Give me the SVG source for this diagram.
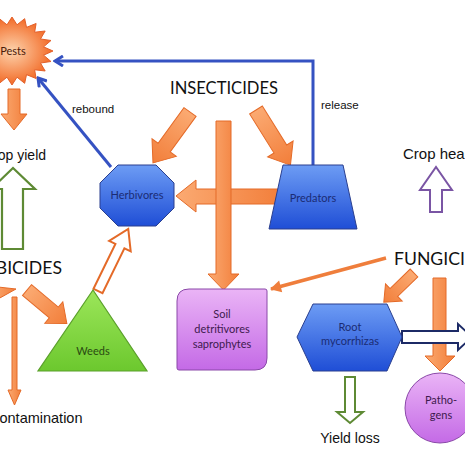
<svg xmlns="http://www.w3.org/2000/svg" width="465" height="465" viewBox="0 0 465 465">
<defs>
<linearGradient id="gBlue" x1="0" y1="0" x2="0" y2="1"><stop offset="0" stop-color="#6d9cf4"/><stop offset="1" stop-color="#1f4ed6"/></linearGradient>
<linearGradient id="gGreen" x1="0" y1="0" x2="0" y2="1"><stop offset="0" stop-color="#9ce65a"/><stop offset="1" stop-color="#6cc82e"/></linearGradient>
<linearGradient id="gPurple" x1="0" y1="0" x2="0" y2="1"><stop offset="0" stop-color="#eab4f6"/><stop offset="1" stop-color="#c46ae6"/></linearGradient>
<linearGradient id="gOrange" x1="0" y1="0" x2="1" y2="0"><stop offset="0" stop-color="#fbaa72"/><stop offset="1" stop-color="#f27e3a"/></linearGradient>
<radialGradient id="gStar" cx="0.5" cy="0.5" r="0.5"><stop offset="0" stop-color="#fdd3ad"/><stop offset="1" stop-color="#f26a26"/></radialGradient>
<marker id="mBlue" markerWidth="12" markerHeight="12" refX="10" refY="6" orient="auto" markerUnits="userSpaceOnUse"><path d="M2,1 L10,6 L2,11" fill="none" stroke="#3552c2" stroke-width="3"/></marker>
<marker id="mOr" markerWidth="14" markerHeight="14" refX="11" refY="7" orient="auto" markerUnits="userSpaceOnUse"><path d="M1,1 L12,7 L1,13 Z" fill="#ef7e3c"/></marker>
<style>
.ob{fill:url(#gOrange);stroke:#e46a28;stroke-width:1}
.lab{font-family:"Liberation Sans",Arial,sans-serif;fill:#111}
.big{font-family:Lato,"Liberation Sans",sans-serif;font-size:17px;fill:#111}
.nt{font-family:Lato,"Liberation Sans",sans-serif;font-size:11px;text-anchor:middle}
.bl{fill:none;stroke:#3552c2;stroke-width:3}
</style>
</defs>
<rect width="465" height="465" fill="#fff"/>

<g id="connectors">
<polyline class="bl" points="313,166 313,61 55,61" marker-end="url(#mBlue)"/>
<line class="bl" x1="111" y1="167" x2="38" y2="78" marker-end="url(#mBlue)"/>
<path class="ob" d="M8,89 H20 V114 H27 L14,130 L1,114 H8 Z"/>
<path class="ob" d="M16,289 L-2,299 L-1,293 L-8,296 L-2,287 Z"/>
<path class="ob" transform="translate(27,290) rotate(40)" d="M0,-7 H35 V-14 L52,0 L35,14 V7 H0 Z"/>
<path class="ob" d="M12,297 H17 V390 H21 L14.5,405 L8,390 H12 Z"/>
<path class="ob" d="M283,189 H196 V180 L176,196 L196,212 V204 H283 Z"/>
<path class="ob" transform="translate(190,112) rotate(126)" d="M0,-7.5 H44 V-15 L63,0 L44,15 V7.5 H0 Z"/>
<path class="ob" transform="translate(256,110) rotate(58)" d="M0,-7.5 H46 V-15 L65,0 L46,15 V7.5 H0 Z"/>
<path class="ob" d="M216,121 H231 V274 H239 L223.5,290 L208,274 H216 Z"/>
<path transform="translate(98,291) rotate(-64)" d="M0,-5 H50 V-12 L69,0 L50,12 V5 H0 Z" fill="#fff" stroke="#e46a28" stroke-width="2"/>
<path d="M2,249 V189 H-9 L13,168 L35,189 H23 V249 Z" fill="#fff" stroke="#5e8a34" stroke-width="2.2"/>
<line x1="386" y1="258" x2="271" y2="289" stroke="#ef7e3c" stroke-width="3.5" marker-end="url(#mOr)"/>
<path class="ob" transform="translate(414,273) rotate(136)" d="M0,-5.5 H28 V-12 L42,0 L28,12 V5.5 H0 Z"/>
<path class="ob" d="M433,278 H446 V356 H455 L440,371 L425,356 H433 Z"/>
<path d="M442,212 V190 H452 L436,167 L420,190 H430 V212 Z" fill="#fff" stroke="#7a55a4" stroke-width="2"/>
<path d="M402,331 H458 V324 L472,337 L458,350 V343 H402 Z" fill="#fff" stroke="#1c2a66" stroke-width="2"/>
<path d="M345,377 V412 H337 L350,423 L363,412 H355 V377 Z" fill="#fff" stroke="#5e8a34" stroke-width="2"/>
</g>

<g id="pests">
<polygon transform="translate(12,51) scale(41,34)" vector-effect="non-scaling-stroke" fill="url(#gStar)" stroke="#e3602a" stroke-width="1" points="1,0 .77,.122 .951,.309 .695,.354 .809,.588 .552,.552 .588,.809 .354,.695 .309,.951 .122,.77 0,1 -.122,.77 -.309,.951 -.354,.695 -.588,.809 -.552,.552 -.809,.588 -.695,.354 -.951,.309 -.77,.122 -1,0 -.77,-.122 -.951,-.309 -.695,-.354 -.809,-.588 -.552,-.552 -.588,-.809 -.354,-.695 -.309,-.951 -.122,-.77 0,-1 .122,-.77 .309,-.951 .354,-.695 .588,-.809 .552,-.552 .809,-.588 .695,-.354 .951,-.309 .77,-.122"/>
<text class="nt" x="13" y="55" fill="#4a1a08">Pests</text>
</g>

<g id="herbivores">
<polygon points="118,165 156,165 174,183 174,208 156,226 118,226 100,208 100,183" fill="url(#gBlue)" stroke="#2a3f8f" stroke-width="1"/>
<text class="nt" x="137" y="199" fill="#1b2c74">Herbivores</text>
</g>

<g id="predators">
<polygon points="283,165 343,165 357,229 269,229" fill="url(#gBlue)" stroke="#2a3f8f" stroke-width="1"/>
<text class="nt" x="313" y="202" fill="#1b2c74">Predators</text>
</g>

<g id="weeds">
<polygon points="93,290 147,371 38,371" fill="url(#gGreen)" stroke="#5aa02a" stroke-width="1.2"/>
<text class="nt" x="93" y="355" fill="#2a4a12" font-size="12">Weeds</text>
</g>

<g id="soil">
<path d="M189,289 H265 Q267,289 267,291 V358 Q267,370 255,370 H179 Q177,370 177,368 V301 Q177,289 189,289 Z" fill="url(#gPurple)" stroke="#8a48a8" stroke-width="1"/>
<text class="nt" x="222" y="318" fill="#3e1a4e">Soil</text>
<text class="nt" x="222" y="333" fill="#3e1a4e">detritivores</text>
<text class="nt" x="222" y="348" fill="#3e1a4e">saprophytes</text>
</g>

<g id="root">
<polygon points="313,304 387,304 402,337 387,371 313,371 297,337" fill="url(#gBlue)" stroke="#2a3f8f" stroke-width="1"/>
<text class="nt" x="350" y="331" fill="#1b2c74">Root</text>
<text class="nt" x="350" y="345" fill="#1b2c74">mycorrhizas</text>
</g>

<g id="pathogens">
<circle cx="440" cy="408" r="35" fill="url(#gPurple)" stroke="#8a48a8" stroke-width="1"/>
<text class="nt" x="441" y="404" fill="#3e1a4e">Patho-</text>
<text class="nt" x="441" y="419" fill="#3e1a4e">gens</text>
</g>

<g id="labels">
<text class="big" x="170" y="94" textLength="108" lengthAdjust="spacingAndGlyphs">INSECTICIDES</text>
<text class="big" x="-39" y="274" textLength="101" lengthAdjust="spacingAndGlyphs">HERBICIDES</text>
<text class="big" x="394" y="265" textLength="104" lengthAdjust="spacingAndGlyphs">FUNGICIDES</text>
<text class="lab" x="-17" y="160" font-size="14">Crop yield</text>
<text class="lab" x="403" y="159" font-size="15">Crop health</text>
<text class="lab" x="-11" y="423" font-size="14.5">Contamination</text>
<text class="lab" x="350" y="443" font-size="14" text-anchor="middle">Yield loss</text>
<text class="lab" x="72" y="113" font-size="11.5">rebound</text>
<text class="lab" x="321" y="109" font-size="11.5">release</text>
</g>
</svg>
